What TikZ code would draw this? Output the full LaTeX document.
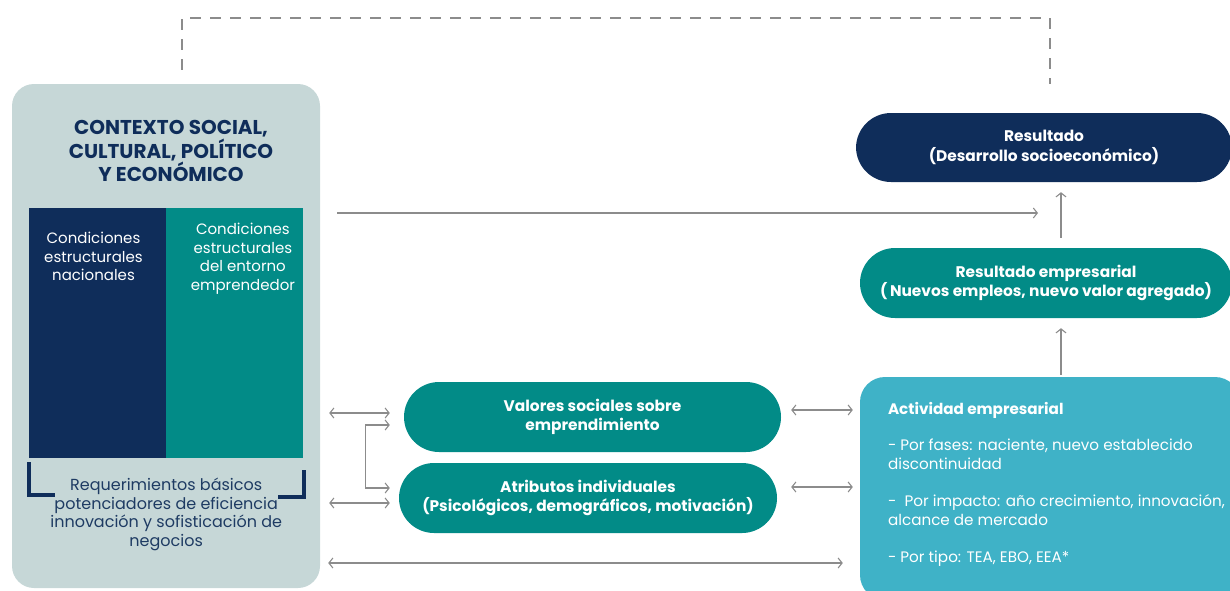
\documentclass[tikz,border=0pt]{standalone}
\usepackage{fontspec}
\setmainfont{Poppins}
\usetikzlibrary{arrows.meta, positioning, calc}

\definecolor{navy}{HTML}{0F2D5A}
\definecolor{teal}{HTML}{028B87}
\definecolor{cyan}{HTML}{3FB2C7}
\definecolor{ltgray}{HTML}{C6D7D7}
\definecolor{arrgray}{HTML}{8C8C8C}
\definecolor{reqtext}{HTML}{1E3B63}

\begin{document}
\begin{tikzpicture}[x=1pt, y=-1pt,
  pill/.style={rounded corners=35pt, text=white, align=center, inner sep=0pt,
    minimum height=70pt, font=\bfseries\fontsize{15.4}{19.5}\selectfont},
  cell/.style={minimum width=137pt, minimum height=250pt, inner sep=0pt},
  celltxt/.style={text=white, align=center, inner sep=0pt, font=\fontsize{15}{18.7}\selectfont},
  arr/.style={draw=arrgray, line width=1.1pt, -{Straight Barb[length=4pt,width=10pt]}},
  dbl/.style={arr, {Straight Barb[length=4pt,width=10pt]}-{Straight Barb[length=4pt,width=10pt]}},
  brk/.style={draw=navy, line width=4pt},
  fb/.style={draw=arrgray, line width=2.6pt, dash pattern=on 11pt off 9pt}]
  \useasboundingbox (0,0) rectangle (1230,590);

  % context panel
  \node[fill=ltgray, rounded corners=22pt, minimum width=308pt, minimum height=504pt, inner sep=0pt] (ctx) at (166,336) {};
  \node[text=navy, align=center, inner sep=0pt, font=\bfseries\fontsize{20}{23.5}\selectfont] (ttl) at (171,151)
    {CONTEXTO SOCIAL,\\CULTURAL, POLÍTICO\\Y ECONÓMICO};
  \node[cell, fill=navy] (nac) at (97.5,333) {};
  \node[cell, fill=teal, right=0pt of nac] (ent) {};
  \node[celltxt, anchor=north] (nactxt) at ($(nac.north)+(-4,24)$) {Condiciones\\estructurales\\nacionales};
  \node[celltxt, anchor=north] (enttxt) at ($(ent.north)+(8,15)$) {Condiciones\\estructurales\\del entorno\\emprendedor};
  \node[text=reqtext, align=center, inner sep=0pt, font=\fontsize{16}{18.7}\selectfont, anchor=north] (req)
    at ($(nac.south east)+(0,19.5)$) {Requerimientos básicos\\potenciadores de eficiencia\\innovación y sofisticación de\\negocios};
  % brackets
  \draw[brk] ($(nac.south west)+(0,4)$) -- ($(nac.south west)+(0,37)$) -- ($(nac.south west)+(26,37)$);
  \draw[brk] ($(ent.south east)+(0,12)$) -- ($(ent.south east)+(0,39)$) -- ($(ent.south east)+(-26,39)$);

  % middle pills
  \node[pill, fill=teal, minimum width=377pt] (val) at (592.5,417) {Valores sociales sobre\\emprendimiento};
  \node[pill, fill=teal, minimum width=378pt] (atr) at (588,498) {Atributos individuales\\(Psicológicos, demográficos, motivación)};

  % right column
  \node[pill, fill=navy, minimum width=376pt, minimum height=69pt] (res) at (1044,147.5) {Resultado\\(Desarrollo socioeconómico)};
  \node[pill, fill=teal, minimum width=372pt] (resemp) at (1046,283) {Resultado empresarial\\(\,Nuevos empleos, nuevo valor agregado)};
  \node[fill=cyan, rounded corners=25pt, minimum width=380pt, minimum height=223pt, inner sep=0pt] (act) at (1050,488.5) {};
  \node[text=white, align=left, anchor=north west, inner sep=0pt, font=\fontsize{15.2}{19.3}\selectfont] (acttxt)
    at ($(act.north west)+(28,25)$)
    {\textbf{Actividad empresarial}\\[17pt]
     - Por fases: naciente, nuevo establecido\\discontinuidad\\[17pt]
     -~ Por impacto: año crecimiento, innovación,\\alcance de mercado\\[18pt]
     - Por tipo: TEA, EBO, EEA*};

  % connectors
  \coordinate (resin) at (1038,213);
  \draw[arr, shorten <=17pt] (ctx.east |- resin) -- (resin);
  \draw[arr, shorten <=10pt, shorten >=10pt] (1061,0 |- resemp.north) -- (1061,0 |- res.south);
  \draw[arr, shorten <=2pt, shorten >=10pt] (1061,0 |- act.north) -- (1061,0 |- resemp.south);
  \draw[dbl, shorten <=9pt, shorten >=14pt] ($(ctx.east |- val.west)+(0,-4)$) -- ($(val.west)+(0,-4)$);
  \draw[dbl, shorten <=9pt, shorten >=9pt] ($(ctx.east |- atr.west)+(0,5)$) -- ($(atr.west)+(0,5)$);
  \draw[dbl] ($(val.west)+(-14,8)$) -- ($(val.west)+(-38,8)$) |- ($(atr.west)+(-9,-10)$);
  \draw[dbl, shorten <=10pt, shorten >=7pt] ($(val.east)+(0,-7)$) -- (act.west |- 0,410);
  \draw[dbl, shorten <=14pt, shorten >=7pt] ($(atr.east)+(0,-11)$) -- (act.west |- 0,487);
  \draw[dbl, shorten <=8pt, shorten >=17pt] (ctx.east |- 0,563) -- (act.west |- 0,563);

  % feedback loop
  \draw[fb, shorten <=14pt, shorten >=29pt] (182,0 |- ctx.north) -- (182,18) -- (1050,18) -- (1050,0 |- res.north);
\end{tikzpicture}
\end{document}
